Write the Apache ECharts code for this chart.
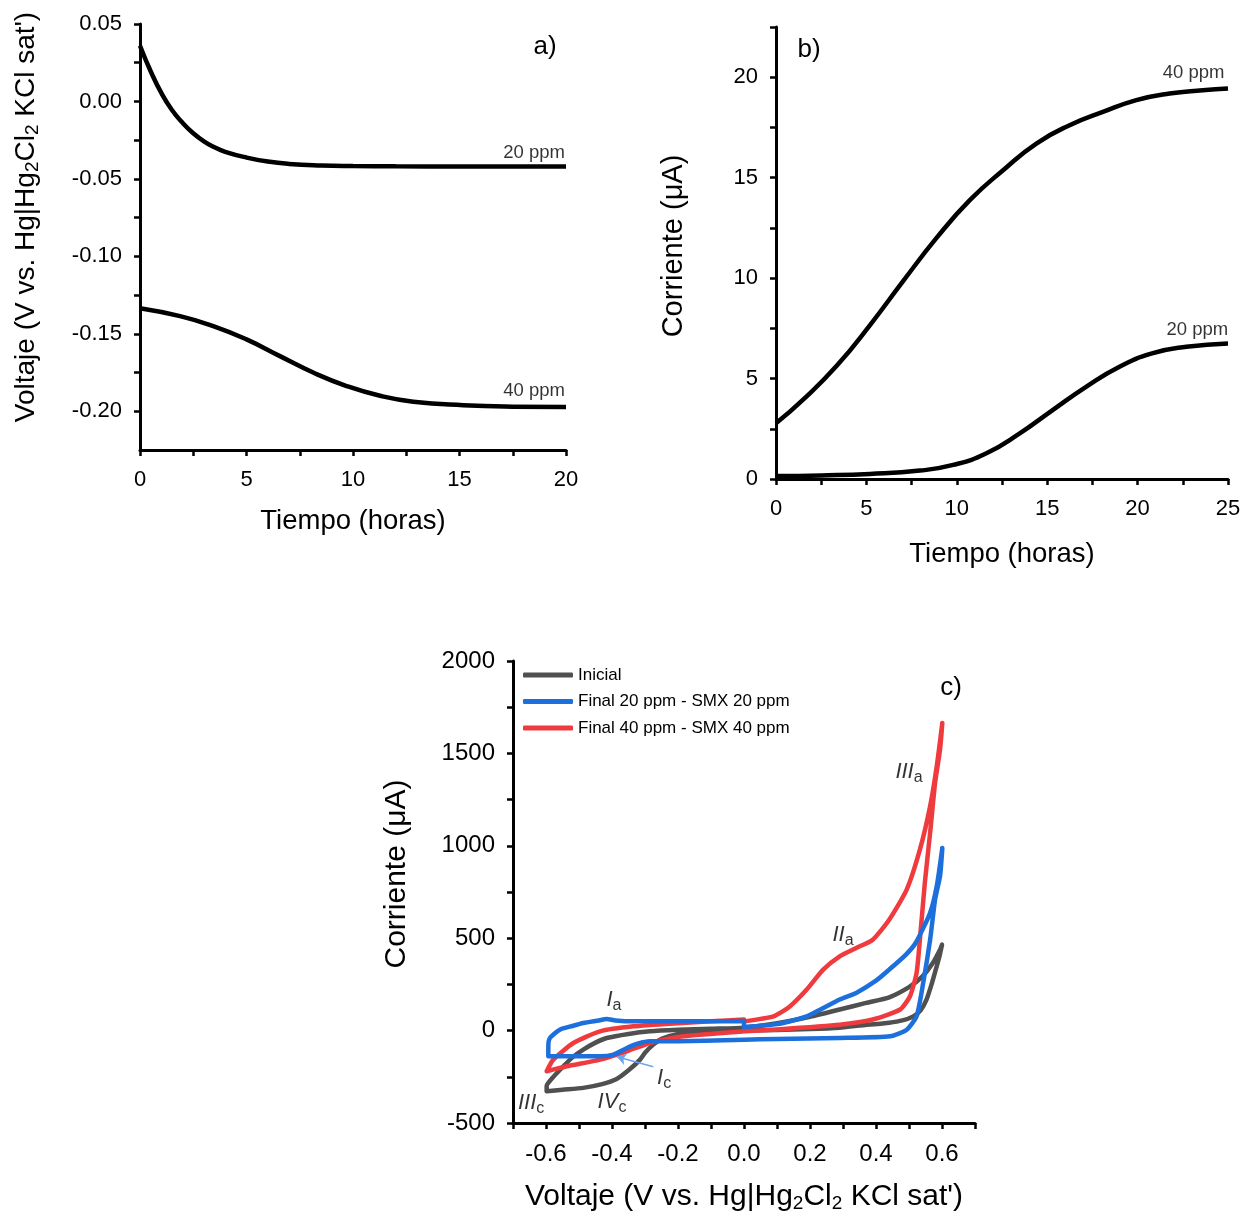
<!DOCTYPE html>
<html><head><meta charset="utf-8">
<script src="https://cdn.jsdelivr.net/npm/echarts@6/dist/echarts.min.js"></script>
<style>html,body{margin:0;padding:0;background:#fff}#c{width:1246px;height:1216px}</style>
</head><body><div id="c"></div>
<script>
// ---------- DATA ----------
// Panel a: voltage vs time (hours)
const a20 = [[0,0.036],[0.5,0.0195],[1.0,0.0055],[1.5,-0.0055],[2.0,-0.0138],[2.5,-0.0205],[3.0,-0.0257],[3.5,-0.0296],[4.0,-0.0325],[5.0,-0.0362],[6.0,-0.0388],[7.0,-0.0403],[8.5,-0.0413],[10,-0.0417],[12,-0.0419],[15,-0.042],[20,-0.042]];
const a40 = [[0,-0.1335],[1.88,-0.1386],[3.44,-0.145],[5.0,-0.1536],[6.57,-0.1644],[8.13,-0.175],[9.7,-0.1837],[11.27,-0.190],[12.83,-0.1938],[15.17,-0.1961],[17.5,-0.197],[20,-0.1972]];
// Panel b: current vs time (hours)
const b40 = [[0,2.77],[1.5,3.95],[3.37,5.65],[5.19,7.65],[7.03,9.85],[8.88,12.0],[10.72,13.88],[12.56,15.37],[14.4,16.7],[16.24,17.61],[18.08,18.27],[19.93,18.86],[21.77,19.19],[23.6,19.35],[25,19.44]];
const b20 = [[0,0.15],[2.5,0.18],[5.19,0.25],[7.96,0.42],[9.8,0.7],[11.64,1.28],[13.48,2.27],[15.3,3.43],[17.15,4.59],[19.0,5.59],[20.8,6.25],[22.7,6.58],[25,6.75]];
// Panel c: cyclic voltammograms (V, uA)
const cvInicial = [[0,0],[-0.1,-8],[-0.2,-20],[-0.25,-45],[-0.275,-76],[-0.3,-120],[-0.315,-157],[-0.35,-215],[-0.386,-262],[-0.43,-290],[-0.487,-310],[-0.55,-320],[-0.598,-328],
  [-0.598,-300],[-0.58,-255],[-0.547,-193],[-0.52,-145],[-0.487,-103],[-0.45,-65],[-0.416,-40],[-0.35,-18],[-0.285,-4],[-0.2,4],[-0.1,10],[0,16],
  [0.1,40],[0.2,75],[0.29,114],[0.37,150],[0.44,180],[0.5,235],[0.54,292],[0.57,360],[0.594,438],[0.6,465],
  [0.592,400],[0.584,348],[0.57,260],[0.553,168],[0.535,110],[0.513,77],[0.48,55],[0.44,43],[0.35,28],[0.29,16],[0.2,8],[0.1,3],[0,0]];
const cv20 = [[0,20],[0.1,35],[0.19,77],[0.29,168],[0.34,204],[0.4,270],[0.44,330],[0.49,410],[0.52,474],[0.564,637],[0.584,781],[0.601,988],
  [0.594,835],[0.579,709],[0.564,492],[0.543,258],[0.523,77],[0.493,5],[0.443,-31],[0.29,-40],[0.1,-45],[0,-49],
  [-0.12,-55],[-0.2,-57],[-0.285,-58],[-0.32,-70],[-0.355,-94],[-0.396,-130],[-0.436,-139],[-0.537,-139],[-0.593,-139],
  [-0.593,-85],[-0.588,-40],[-0.558,5],[-0.52,25],[-0.487,41],[-0.44,55],[-0.416,63],[-0.39,55],[-0.335,50],[-0.2,50],[-0.1,50],[0,52],[0,20]];
const cv40 = [[0,50],[0.089,77],[0.139,131],[0.19,222],[0.24,330],[0.29,402],[0.34,447],[0.39,492],[0.44,600],[0.493,763],[0.533,979],[0.564,1214],[0.584,1430],[0.601,1665],
  [0.594,1520],[0.579,1340],[0.564,1070],[0.548,800],[0.533,492],[0.523,312],[0.503,186],[0.473,114],[0.39,60],[0.29,32],[0.089,5],[0,-4],
  [-0.184,-31],[-0.285,-67],[-0.355,-112],[-0.436,-157],[-0.537,-193],[-0.598,-220],
  [-0.578,-157],[-0.517,-67],[-0.436,-4],[-0.335,23],[-0.2,40],[-0.1,50],[0,60],[0,50]];
// Tick labels
const aXTicks = [0,5,10,15,20];
const aYTicks = [0.05,0,-0.05,-0.1,-0.15,-0.2];
const bXTicks = [0,5,10,15,20,25];
const bYTicks = [0,5,10,15,20];
const cXTicks = [-0.6,-0.4,-0.2,0,0.2,0.4,0.6];
const cYTicks = [-500,0,500,1000,1500,2000];
const aXMinor = [0,2.5,5,7.5,10,12.5,15,17.5,20];
const aYMinor = [0.05,0.025,0,-0.025,-0.05,-0.075,-0.1,-0.125,-0.15,-0.175,-0.2];
const bXMinor = [0,2.5,5,7.5,10,12.5,15,17.5,20,22.5,25];
const bYMinor = [0,2.5,5,7.5,10,12.5,15,17.5,20,22.5];
const cXMinor = [-0.7,-0.6,-0.5,-0.4,-0.3,-0.2,-0.1,0,0.1,0.2,0.3,0.4,0.5,0.6,0.7];
const cYMinor = [-500,-250,0,250,500,750,1000,1250,1500,1750,2000];
const legendNames = ['Inicial','Final 20 ppm - SMX 20 ppm','Final 40 ppm - SMX 40 ppm'];
// Annotations [x, y, main, sub]
const cNotes = [[-0.394,168,'I','a'],[0.30,519,'II','a'],[0.50,1401,'III','a'],[-0.242,-254,'I','c'],[-0.40,-384,'IV','c'],[-0.645,-390,'III','c']];

// ---------- STYLE ----------
const F = '"Liberation Sans", Arial, sans-serif';
const subRich = {s:{fontSize:19, fontFamily:F, padding:[13,0,0,0], color:'#000'}};

function axis(type, grid, min, max, ticks, minor, fmt, name, gap, fsize, lsize, pad) {
  return {
    type:'value', gridIndex:grid, min:min, max:max,
    position: type==='x' ? 'bottom' : 'left',
    splitLine:{show:false},
    axisLine:{show:true, onZero:false, lineStyle:{color:'#000', width:3}},
    axisTick:{show:true, inside:false, length:6, customValues:minor, lineStyle:{color:'#000', width:2.5}},
    axisLabel:{customValues:ticks, formatter:fmt, color:'#000', fontSize:lsize, fontFamily:F, margin: type==='x'?19:18},
    name:name, nameLocation:'middle', nameGap:gap,
    nameTextStyle:{color:'#000', fontSize:fsize, fontFamily:F, rich:subRich, padding:pad||0}
  };
}

const chart = echarts.init(document.getElementById('c'), null, {renderer:'canvas'});
const lineS = (data, xi, color, name) => ({type:'line', name:name, xAxisIndex:xi, yAxisIndex:xi, data:data, showSymbol:false, symbol:'none', smooth:0.5, lineStyle:{color:color, width:4.5}, itemStyle:{color:color}, silent:true, z:3});
const cvS = (data, color, name) => ({type:'line', name:name, xAxisIndex:2, yAxisIndex:2, data:data, showSymbol:false, symbol:'none', smooth:0.2, lineStyle:{color:color, width:4.5, cap:'round', join:'round'}, itemStyle:{color:color}, silent:true, z:3});
const txt = (xi, pt, text) => ({type:'scatter', xAxisIndex:xi, yAxisIndex:xi, data:[pt], symbolSize:0, silent:true, z:5,
  label:{show:true, position:'inside', formatter:text, color:'#000', fontSize:18.5, fontFamily:F}});

const option = {
  animation:false,
  backgroundColor:'#fff',
  grid:[
    {left:140, top:24, width:426, height:426},
    {left:776, top:27, width:452, height:452},
    {left:513, top:661, width:462, height:462}
  ],
  xAxis:[
    axis('x',0,0,20,aXTicks,aXMinor,v=>String(v),'Tiempo (horas)',57,27.5,22),
    axis('x',1,0,25,bXTicks,bXMinor,v=>String(v),'Tiempo (horas)',61,27.5,22),
    axis('x',2,-0.7,0.7,cXTicks,cXMinor,v=>v.toFixed(1),"Voltaje (V vs. Hg|Hg{s|2}Cl{s|2} KCl sat')",58,30,24)
  ],
  yAxis:[
    axis('y',0,-0.225,0.05,aYTicks,aYMinor,v=>v.toFixed(2),"Voltaje (V vs. Hg|Hg{s|2}Cl{s|2} KCl sat')",98,28,22,[0,0,0,40]),
    axis('y',1,0,22.5,bYTicks,bYMinor,v=>String(v),'Corriente (\u03bcA)',88,29,22,[0,0,0,14]),
    axis('y',2,-500,2000,cYTicks,cYMinor,v=>String(v),'Corriente (\u03bcA)',101,30,24,[0,0,0,36])
  ],
  legend:{
    data:legendNames, orient:'vertical', left:523, top:665, itemGap:6.5, padding:0,
    icon:'roundRect', itemWidth:50, itemHeight:5, selectedMode:false,
    textStyle:{fontFamily:F, fontSize:17, color:'#000', lineHeight:20}
  },
  series:[
    lineS(a20,0,'#000'), lineS(a40,0,'#000'),
    lineS(b40,1,'#000'), lineS(b20,1,'#000'),
    cvS(cvInicial,'#505050',legendNames[0]),
    cvS(cv40,'#ef3a3e',legendNames[2]),
    cvS(cv20,'#1d6fdc',legendNames[1]),
    txt(0,[18.5,-0.033],'20 ppm'), txt(0,[18.5,-0.187],'40 ppm'),
    txt(1,[23.1,20.2],'40 ppm'), txt(1,[23.3,7.4],'20 ppm'),
    {type:'scatter', xAxisIndex:2, yAxisIndex:2, symbolSize:0, silent:true, z:6,
      data:cNotes.map(n=>({value:[n[0],n[1]], main:n[2], sub:n[3]})),
      label:{show:true, position:'inside', color:'#000', fontFamily:F,
        formatter:p=>'{i|'+p.data.main+'}{s|'+p.data.sub+'}',
        rich:{i:{fontStyle:'italic', fontSize:22, fontFamily:F, color:'#000'}, s:{fontSize:16, fontFamily:F, padding:[12,0,0,0], color:'#000'}}}},
    {type:'lines', coordinateSystem:'cartesian2d', xAxisIndex:2, yAxisIndex:2, silent:true, z:7,
      symbol:['none','arrow'], symbolSize:9,
      lineStyle:{color:'#6aa6ef', width:1.5, opacity:1},
      data:[{coords:[[-0.275,-196],[-0.385,-142]]}]}
  ],
  graphic:[
    {type:'text', x:545, y:47, style:{text:'a)', fontSize:26, fontFamily:F, fill:'#000', align:'center', verticalAlign:'middle'}},
    {type:'text', x:809, y:50, style:{text:'b)', fontSize:26, fontFamily:F, fill:'#000', align:'center', verticalAlign:'middle'}},
    {type:'text', x:951, y:688, style:{text:'c)', fontSize:26, fontFamily:F, fill:'#000', align:'center', verticalAlign:'middle'}}
  ]
};
chart.setOption(option);
</script></body></html>
